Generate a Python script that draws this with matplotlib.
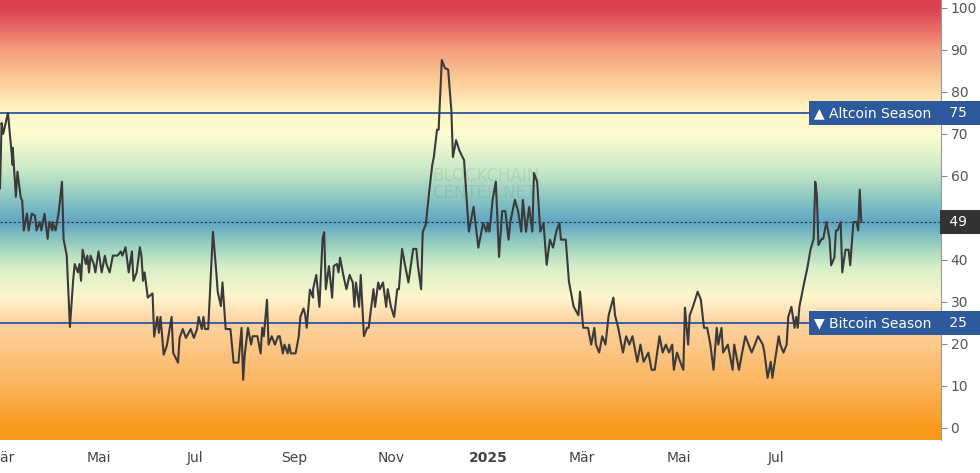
import numpy as np
import matplotlib.pyplot as plt
from matplotlib.colors import LinearSegmentedColormap
from matplotlib.transforms import blended_transform_factory

# day numbers counted from 2024-02-29, index value (0-100)
days = [0, 1, 2, 5, 8, 8, 10, 11, 13, 14, 15, 17, 18, 20, 22, 23, 25, 26, 28, 30, 31, 33, 33, 35, 37, 39, 40, 42, 44, 46,
        47, 49, 50, 51, 52, 54, 55, 56, 57, 59, 60, 62, 64, 66, 67, 69, 71, 74, 76, 77, 79, 81, 83, 84, 86, 88, 89, 90, 91, 93,
        96, 97, 99, 100, 101, 103, 105, 108, 109, 112, 113, 115, 117, 120, 122, 124, 125, 127, 128, 129, 131, 134, 136, 137, 139, 140, 142, 145, 147, 150,
        152, 153, 154, 156, 158, 159, 162, 163, 164, 165, 166, 168, 169, 171, 173, 175, 176, 178, 179, 181, 182, 183, 186, 188, 189, 191, 192, 193, 195, 197,
        197, 199, 201, 203, 204, 205, 207, 209, 210, 212, 213, 214, 216, 218, 220, 222, 223, 224, 226, 227, 229, 231, 232, 235, 236, 238, 239, 241, 243, 244,
        246, 248, 250, 251, 253, 255, 257, 260, 262, 263, 265, 266, 268, 270, 272, 273, 275, 276, 278, 280, 282, 284, 285, 287, 289, 291, 292, 295, 298, 301,
        304, 306, 307, 308, 310, 312, 314, 316, 318, 320, 321, 324, 326, 328, 329, 331, 333, 335, 336, 338, 340, 342, 344, 346, 348, 350, 352, 353, 356, 358,
        361, 364, 365, 367, 370, 372, 374, 375, 377, 379, 381, 383, 386, 387, 389, 392, 394, 396, 398, 401, 403, 405, 408, 410, 412, 415, 417, 419, 421, 423,
        424, 426, 428, 430, 431, 433, 434, 436, 439, 441, 443, 445, 447, 449, 451, 452, 454, 455, 458, 461, 462, 465, 467, 469, 473, 475, 477, 480, 481, 483,
        485, 486, 490, 491, 493, 495, 496, 498, 500, 501, 502, 503, 506, 508, 510, 512, 513, 514, 515, 517, 518, 520, 522, 523, 525, 526, 527, 529, 530, 532,
        534, 535, 537, 539, 540, 541, 542]
values = [57, 72.6, 70, 75, 62.6, 66.7, 55, 61, 55, 54, 47, 51, 47, 51, 50.5, 47, 49, 47, 51, 45, 49, 47, 49, 47, 51.5, 58.6, 45, 41, 24, 35,
          39, 37, 39, 35, 42.4, 39, 41, 37, 41, 39, 37, 42, 37, 41, 39, 37, 41, 41, 42, 41, 43, 37, 42, 35, 37, 43, 41, 35, 37, 31,
          32, 21.7, 26.4, 22.6, 26.4, 17.4, 19.6, 26.4, 17.8, 15.5, 21.4, 23.5, 21.4, 23.5, 21.4, 23.5, 26.4, 23.5, 26.4, 23.5, 23.5, 46.7, 37.6, 32.4, 29, 34.6, 23.5, 23.5, 15.5, 15.5,
          23.8, 11.4, 17.4, 23.8, 19.8, 21.8, 21.8, 19.8, 17.7, 23.8, 21.8, 30.5, 19.8, 21.8, 19.8, 21.8, 21.8, 17.7, 19.8, 17.7, 19.8, 17.7, 17.7, 21.8, 26.4, 28.4, 27, 23.8, 32.9, 31,
          33, 36.4, 28.8, 45.2, 46.6, 33, 38.5, 31, 38.5, 39, 37, 40.5, 36.4, 33, 36.4, 34.6, 28.8, 34.6, 28.8, 36.4, 21.8, 23.8, 23.8, 33, 28.8, 34.6, 33, 34.6, 28.8, 33,
          28.8, 26.4, 33, 33, 42.6, 38.5, 34.6, 42.6, 42.6, 38.5, 33, 46.6, 48.5, 56, 62.6, 64.5, 71, 71, 87.6, 85.7, 85.3, 75.7, 64.5, 68.5, 66.1, 64.5, 63.8, 46.7, 52.6, 42.9,
          48.8, 46.7, 48.8, 46.7, 54.3, 58.6, 40.7, 51.6, 51.6, 44.8, 48.8, 54.3, 51.6, 46.7, 54.3, 46.7, 52.6, 46.7, 60.7, 58.6, 46.7, 48.8, 38.8, 44.8, 42.9, 46.7, 48.8, 44.8, 44.8, 34.8,
          28.8, 26.8, 32.4, 23.8, 23.8, 19.8, 23.8, 19.8, 17.9, 21.8, 19.8, 26.8, 31, 26.8, 23.8, 17.9, 21.8, 19.8, 21.8, 15.7, 19.8, 15.7, 17.9, 13.8, 13.8, 21.8, 17.9, 19.8, 17.9, 19.8,
          13.8, 17.9, 15.7, 13.8, 28.6, 19.8, 26.8, 28.8, 32.4, 30.5, 23.8, 23.8, 19.8, 13.8, 23.8, 19.8, 23.8, 17.9, 19.8, 13.8, 19.8, 13.8, 17.9, 21.8, 17.9, 19.8, 21.8, 19.8, 17.9, 11.9,
          15.7, 11.9, 21.8, 19.8, 17.9, 19.8, 26.4, 28.8, 23.8, 26.4, 23.8, 28.8, 34.5, 38, 42.4, 45, 58.6, 55.6, 43.5, 45, 45, 49, 45, 38.7, 40.5, 47, 47, 49, 37, 42.4,
          42.4, 38.7, 49, 49, 47, 56.7, 49]

month_days = [1, 62, 123, 185, 246, 307, 366, 427, 488]
month_labels = ['Mär', 'Mai', 'Jul', 'Sep', 'Nov', '2025', 'Mär', 'Mai', 'Jul']
current = 49
alt_level = 75
btc_level = 25

fig = plt.figure(figsize=(9.8, 4.73), dpi=100)
ax = fig.add_axes([0, 0.07, 0.96, 0.93])

x0, x1 = 0, 592
y0, y1 = -2.9, 101.9

# background gradient by value
stops = [(0.0, '#f99a1c'), (0.10, '#fbb55e'), (0.25, '#fdd3a2'), (0.31, '#fff5cc'),
         (0.38, '#d8f0c8'), (0.43, '#9fd3c0'), (0.49, '#5fa6c4'), (0.55, '#8ec8c2'),
         (0.61, '#c6e8c6'), (0.70, '#fdfdd0'), (0.76, '#fff4c4'), (0.82, '#fdd29a'),
         (0.90, '#f5a07e'), (1.0, '#dc4150')]
cmap = LinearSegmentedColormap.from_list('bg', stops)
grad = np.linspace(y0, y1, 400).reshape(-1, 1) / 100.0
ax.imshow(grad, cmap=cmap, vmin=0, vmax=1, origin='lower', aspect='auto',
          extent=[x0, x1, y0, y1], zorder=0)

ax.text(272, 58, 'BLOCKCHAIN\nCENTER.NET', fontsize=12, color='#555555',
        alpha=0.12, va='center', ha='left', linespacing=0.9, zorder=1)

ax.axhline(alt_level, color='#2b55a0', lw=1.3, zorder=2)
ax.axhline(btc_level, color='#2b55a0', lw=1.3, zorder=2)
ax.axhline(current, color='#333333', lw=0.8, ls=(0, (2, 2)), zorder=2)

ax.plot(days, values, color='#3a3a3a', lw=1.5, zorder=3)

ax.set_xlim(x0, x1)
ax.set_ylim(y0, y1)

ax.yaxis.tick_right()
ax.set_yticks(range(0, 101, 10))
ax.tick_params(axis='y', colors='#888888', labelcolor='#555555', labelsize=10, length=4, pad=3)
ax.set_xticks(month_days)
ax.set_xticklabels(month_labels)
ax.tick_params(axis='x', length=0, labelsize=10, labelcolor='#444444', pad=8)
for lbl in ax.get_xticklabels():
    if lbl.get_text() == '2025':
        lbl.set_fontweight('bold')
for s in ['top', 'left', 'bottom']:
    ax.spines[s].set_visible(False)
ax.spines['right'].set_color('#999999')

tr = blended_transform_factory(ax.transAxes, ax.transData)
blue = '#2d5a9c'
for level, name in [(alt_level, '▲ Altcoin Season  -'), (btc_level, '▼ Bitcoin Season  -')]:
    ax.text(1.004, level, name, transform=tr, ha='right', va='center', color='white',
            fontsize=10, bbox=dict(boxstyle='square,pad=0.35', fc=blue, ec='none'),
            zorder=5, clip_on=False)
    ax.text(1.004, level, ' %d  ' % level, transform=tr, ha='left', va='center', color='white',
            fontsize=10, bbox=dict(boxstyle='square,pad=0.35', fc=blue, ec='none'),
            zorder=5, clip_on=False)
ax.text(1.004, current, ' %d  ' % current, transform=tr, ha='left', va='center',
        color='white', fontsize=10, bbox=dict(boxstyle='square,pad=0.35', fc='#333333', ec='none'),
        zorder=5, clip_on=False)

fig.savefig('out.png', dpi=100)
